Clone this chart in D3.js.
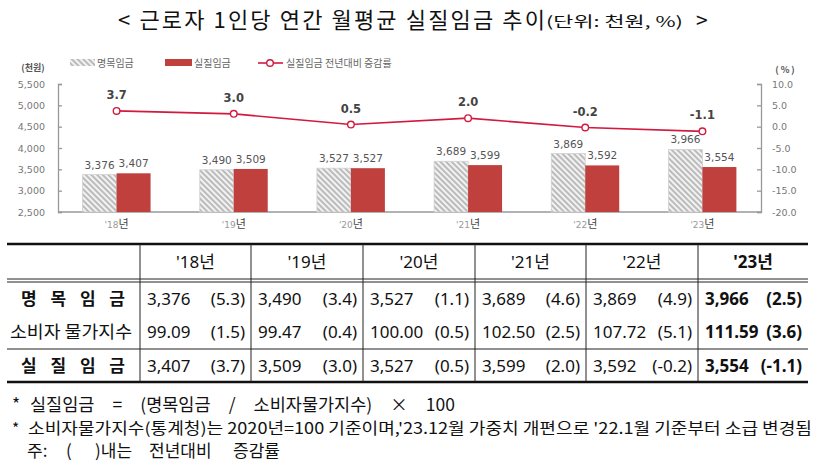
<!DOCTYPE html>
<html><head><meta charset="utf-8">
<script src="https://cdn.jsdelivr.net/npm/d3@7/dist/d3.min.js"></script>
<style>
body{margin:0;background:#fff;}
svg{display:block;font-family:"Noto Sans","Noto Sans CJK KR",sans-serif;}
</style></head>
<body><svg id="c" width="820" height="467"></svg>
<script>
const years = ["'18","'19","'20","'21","'22","'23"];
const nominal = [3376,3490,3527,3689,3869,3966];
const nominalPct = [5.3,3.4,1.1,4.6,4.9,2.5];
const cpi = [99.09,99.47,100.00,102.50,107.72,111.59];
const cpiPct = [1.5,0.4,0.5,2.5,5.1,3.6];
const real = [3407,3509,3527,3599,3592,3554];
const realPct = [3.7,3.0,0.5,2.0,-0.2,-1.1];
const leftTicks = [2500,3000,3500,4000,4500,5000,5500];
const rightTicks = [-20,-15,-10,-5,0,5,10];
const seriesNames = ["명목임금","실질임금","실질임금 전년대비 증감률"];
const rowLabels = ["명 목 임 금","소비자 물가지수","실 질 임 금"];

const svg = d3.select("#c");
const KR = "'Noto Sans CJK KR','Noto Sans',sans-serif";
const RED = "#c0403e", LINE = "#d2193f";
const f1 = d => d3.format(".1f")(d).replace("\u2212","-");
const fc = d3.format(",");

const defs = svg.append("defs");
const pat = defs.append("pattern").attr("id","hatch").attr("patternUnits","userSpaceOnUse")
  .attr("width",4).attr("height",4).attr("patternTransform","rotate(-45)");
pat.append("rect").attr("width",4).attr("height",4).attr("fill","#f2f2f2");
pat.append("line").attr("x1",1).attr("y1",0).attr("x2",1).attr("y2",4).attr("stroke","#a9a9a9").attr("stroke-width",1.5);

// Title
const TT = svg.append("g").attr("font-family",KR).attr("fill","#111");
TT.append("text").attr("x",118).attr("y",28).attr("font-size",22).attr("textLength",427).attr("lengthAdjust","spacing")
  .text("< 근로자 1인당 연간 월평균 실질임금 추이");
TT.append("text").attr("x",546).attr("y",27).attr("font-size",14.5).attr("textLength",137).attr("lengthAdjust","spacingAndGlyphs")
  .text("(단위: 천원, %)");
TT.append("text").attr("x",696).attr("y",28).attr("font-size",21).text(">");

// Scales
const x0 = d3.scaleBand().domain(years).range([58,761]);
const xs = d3.scaleBand().domain(["n","r"]).range([x0.bandwidth()*0.21, x0.bandwidth()*0.79]);
const yL = d3.scaleLinear().domain([2500,5500]).range([212,84]);
const yR = d3.scaleLinear().domain([-20,10]).range([212,84]);

// Axes
const axL = svg.append("g").attr("transform","translate(58,0)")
  .call(d3.axisLeft(yL).tickValues(leftTicks).tickSize(-4).tickPadding(13).tickFormat(fc));
const axR = svg.append("g").attr("transform","translate(761,0)")
  .call(d3.axisRight(yR).tickValues(rightTicks).tickSize(-4).tickPadding(11).tickFormat(f1));
[axL,axR].forEach(a=>{
  a.select(".domain").attr("stroke","#999").attr("stroke-width",1.3);
  a.selectAll(".tick line").attr("stroke","#999").attr("stroke-width",1.3);
  a.selectAll(".tick text").attr("fill","#777").attr("font-size",9.5).attr("font-family","'DejaVu Sans',sans-serif");
});
axR.selectAll(".tick text").attr("text-anchor","start");
svg.append("line").attr("x1",58).attr("x2",761).attr("y1",yL(2500)).attr("y2",yL(2500))
  .attr("stroke","#999").attr("stroke-width",1.3);

svg.append("text").attr("x",33).attr("y",71).attr("text-anchor","middle").attr("font-size",9)
  .attr("font-weight","bold").attr("fill","#555").attr("font-family",KR).text("(천원)");
svg.append("text").attr("x",785).attr("y",73).attr("text-anchor","middle").attr("font-size",9)
  .attr("font-weight","bold").attr("fill","#555").attr("font-family",KR).text("( % )");

// x labels
const xl = svg.append("g").selectAll("text").data(years).join("text")
  .attr("x",d=>x0(d)+x0.bandwidth()/2).attr("y",228).attr("text-anchor","middle");
xl.append("tspan").attr("font-size",9).attr("fill","#999").attr("font-family","'DejaVu Sans',sans-serif").text(d=>d);
xl.append("tspan").attr("font-size",11).attr("fill","#444").attr("font-family",KR).text("년");

// Bars
const g = svg.append("g");
years.forEach((yr,i)=>{
  const gx = x0(yr);
  g.append("rect").attr("x",gx+xs("n")).attr("width",xs.bandwidth()).attr("y",yL(nominal[i]))
    .attr("height",yL(2500)-yL(nominal[i])).attr("fill","url(#hatch)").attr("stroke","#d0d0d0").attr("stroke-width",0.8);
  g.append("rect").attr("x",gx+xs("r")).attr("width",xs.bandwidth()).attr("y",yL(real[i]))
    .attr("height",yL(2500)-yL(real[i])).attr("fill",RED);
  g.append("text").attr("x",gx+xs("n")+xs.bandwidth()/2).attr("y",yL(nominal[i])-6).attr("text-anchor","middle")
    .attr("font-size",10.5).attr("fill","#555").attr("font-family","'DejaVu Sans',sans-serif").text(fc(nominal[i]));
  g.append("text").attr("x",gx+xs("r")+xs.bandwidth()/2).attr("y",yL(real[i])-6).attr("text-anchor","middle")
    .attr("font-size",10.5).attr("fill","#555").attr("font-family","'DejaVu Sans',sans-serif").text(fc(real[i]));
});

// Line
const cx = i=>x0(years[i])+x0.bandwidth()/2;
svg.append("path").datum(realPct).attr("fill","none").attr("stroke",LINE).attr("stroke-width",1.6)
  .attr("d",d3.line().x((d,i)=>cx(i)).y(d=>yR(d)));
svg.append("g").selectAll("circle").data(realPct).join("circle").attr("cx",(d,i)=>cx(i)).attr("cy",d=>yR(d))
  .attr("r",3.3).attr("fill","#fff").attr("stroke",LINE).attr("stroke-width",1.4);
svg.append("g").selectAll("text").data(realPct).join("text").attr("x",(d,i)=>cx(i)).attr("y",d=>yR(d)-12)
  .attr("text-anchor","middle").attr("font-size",11.5).attr("font-weight","bold").attr("fill","#444")
  .attr("font-family","'DejaVu Sans',sans-serif").text(f1);

// Legend
const lg = svg.append("g").attr("font-family",KR).attr("font-size",10).attr("fill","#666");
lg.append("rect").attr("x",70).attr("y",59).attr("width",25).attr("height",7).attr("fill","url(#hatch)");
lg.append("text").attr("x",97).attr("y",67).text(seriesNames[0]);
lg.append("rect").attr("x",165).attr("y",59).attr("width",27).attr("height",7).attr("fill",RED);
lg.append("text").attr("x",194).attr("y",67).text(seriesNames[1]);
lg.append("line").attr("x1",258).attr("x2",283).attr("y1",63).attr("y2",63).attr("stroke",LINE).attr("stroke-width",1.6);
lg.append("circle").attr("cx",270).attr("cy",63).attr("r",3.3).attr("fill","#fff").attr("stroke",LINE).attr("stroke-width",1.4);
lg.append("text").attr("x",286).attr("y",67).text(seriesNames[2]);

// Table
const colX = [7,140,251,363,475,586,698,808];
const T = svg.append("g").attr("font-family","'Noto Sans','Noto Sans CJK KR',sans-serif").attr("fill","#111");
const tTop=244, hdrB=279, rowY=[282,315,349,382];
T.append("line").attr("x1",7).attr("x2",808).attr("y1",tTop).attr("y2",tTop).attr("stroke","#111").attr("stroke-width",2.5);
T.append("line").attr("x1",7).attr("x2",808).attr("y1",hdrB).attr("y2",hdrB).attr("stroke","#222").attr("stroke-width",1);
T.append("line").attr("x1",7).attr("x2",808).attr("y1",hdrB+3).attr("y2",hdrB+3).attr("stroke","#222").attr("stroke-width",1);
T.append("line").attr("x1",7).attr("x2",808).attr("y1",rowY[2]).attr("y2",rowY[2]).attr("stroke","#222").attr("stroke-width",1);
T.append("line").attr("x1",7).attr("x2",808).attr("y1",rowY[3]).attr("y2",rowY[3]).attr("stroke","#111").attr("stroke-width",2.5);
for(let c=1;c<=6;c++){
  T.append("line").attr("x1",colX[c]).attr("x2",colX[c]).attr("y1",tTop).attr("y2",rowY[3]).attr("stroke","#222").attr("stroke-width",1);
}
years.forEach((yr,i)=>{
  T.append("text").attr("x",(colX[i+1]+colX[i+2])/2).attr("y",268).attr("text-anchor","middle")
    .attr("font-size",17).attr("font-weight",i===5?"bold":"normal").text(yr+"년");
});
const rows = [
  {v:nominal.map(fc), p:nominalPct},
  {v:cpi.map(d3.format(".2f")), p:cpiPct},
  {v:real.map(fc), p:realPct}
];
rows.forEach((r,ri)=>{
  const cy = (rowY[ri]+rowY[ri+1])/2+6;
  const lab = T.append("text").attr("x",ri===1?71:73).attr("y",cy).attr("text-anchor","middle").attr("font-size",17)
    .attr("font-family",KR).attr("font-weight",ri===1?"normal":"bold").text(rowLabels[ri]);
  if(ri!==1) lab.attr("textLength",104).attr("lengthAdjust","spacing");
  else lab.attr("textLength",122).attr("lengthAdjust","spacingAndGlyphs");
  r.v.forEach((v,i)=>{
    const b = i===5?"bold":"normal";
    T.append("text").attr("x",colX[i+1]+7).attr("y",cy).attr("font-size",17).attr("font-weight",b).text(v);
    T.append("text").attr("x",colX[i+2]-6).attr("y",cy).attr("text-anchor","end").attr("font-size",17)
      .attr("font-weight",b).text("("+f1(r.p[i])+")");
  });
});

// Footnotes
const F = svg.append("g").attr("font-family",KR).attr("fill","#111").attr("font-size",17.5);
F.append("text").attr("x",12).attr("y",411).text("*");
// chain pieces with equal gaps so the line spans x 30..455
const pieces1 = ["실질임금","=","(명목임금","/","소비자물가지수)","×","100"];
const fn1 = F.append("text").attr("y",411);
const spans1 = pieces1.map(t=>fn1.append("tspan").text(t));
const w1 = spans1.map(s=>s.node().getComputedTextLength());
const gap1 = (455-30-d3.sum(w1))/(pieces1.length-1);
let px = 30;
spans1.forEach((s,i)=>{ s.attr("x",px); px += w1[i]+gap1; });
F.append("text").attr("x",12).attr("y",434).attr("font-size",15.5).text("*");
F.append("text").attr("x",28).attr("y",434).attr("font-size",15.5).attr("textLength",784).attr("lengthAdjust","spacingAndGlyphs")
  .text("소비자물가지수(통계청)는 2020년=100 기준이며,'23.12월 가중치 개편으로 '22.1월 기준부터 소급 변경됨");
const fn3 = F.append("text").attr("y",457).attr("font-size",17);
[[27,"주:"],[66,"("],[95,")내는"],[149,"전년대비"],[233,"증감률"]]
  .forEach(([x,t])=>fn3.append("tspan").attr("x",x).text(t));
</script></body></html>
